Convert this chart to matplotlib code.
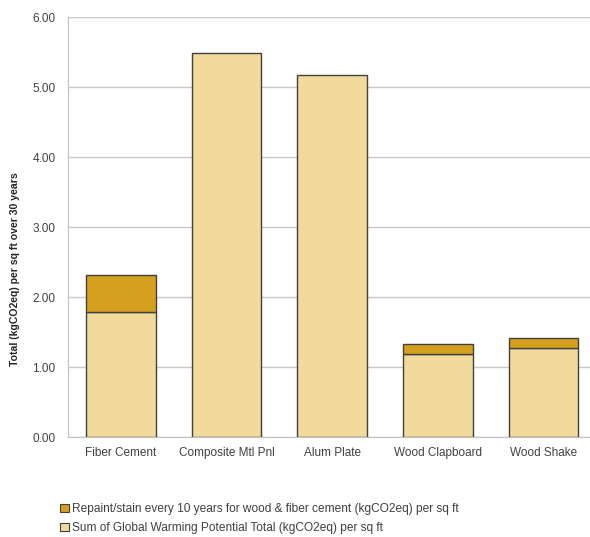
import numpy as np
import matplotlib.pyplot as plt
from matplotlib.patches import Patch

plt.rcParams['font.family'] = ['Liberation Sans', 'DejaVu Sans']

categories = ['Fiber Cement', 'Composite Mtl Pnl', 'Alum Plate', 'Wood Clapboard', 'Wood Shake']
gwp_total = [1.78, 5.48, 5.17, 1.18, 1.27]
repaint = [0.54, 0.0, 0.0, 0.15, 0.15]

base_color = '#f2d99c'
top_color = '#d4a01e'
edge = '#404040'

fig = plt.figure(figsize=(5.9, 5.37), dpi=100)
ax = fig.add_axes([0.1153, 0.1862, 0.8847, 0.7821])

x = np.arange(len(categories))
ax.bar(x, gwp_total, width=0.66, color=base_color, edgecolor=edge, linewidth=1.0, zorder=3)
tops = [r if r > 0 else np.nan for r in repaint]
ax.bar(x, tops, width=0.66, bottom=gwp_total, color=top_color, edgecolor=edge, linewidth=1.0, zorder=3)

ax.set_ylim(0, 6)
ax.set_xlim(-0.5, 4.44)
ax.set_yticks(np.arange(0, 7, 1))
ax.set_yticklabels([f'{v:.2f}' for v in np.arange(0, 7, 1)])
ax.set_xticks(x)
ax.set_xticklabels(categories)
ax.tick_params(axis='both', length=0, labelsize=8.5, labelcolor='#404040')
ax.tick_params(axis='y', pad=9)
ax.tick_params(axis='x', pad=7)

ax.grid(axis='y', color='#c8c8c8', linewidth=1.0, zorder=0)
for s in ['top', 'right']:
    ax.spines[s].set_visible(False)
ax.spines['left'].set_color('#c0c0c0')
ax.spines['bottom'].set_color('#c0c0c0')

fig.text(0.026, 0.499, 'Total (kgCO2eq) per sq ft over 30 years', rotation=90,
         ha='center', va='center', fontsize=7.6, fontweight='bold', color='#262626')

handles = [Patch(facecolor=top_color, edgecolor=edge, linewidth=0.8),
           Patch(facecolor=base_color, edgecolor=edge, linewidth=0.8)]
labels = ['Repaint/stain every 10 years for wood & fiber cement (kgCO2eq) per sq ft',
          'Sum of Global Warming Potential Total (kgCO2eq) per sq ft']
fig.legend(handles, labels, loc='upper left', bbox_to_anchor=(0.102, 0.063),
           frameon=False, fontsize=8.6, handlelength=0.7, handleheight=0.7,
           handletextpad=0.25, labelspacing=0.6, labelcolor='#404040',
           borderaxespad=0, borderpad=0)

fig.savefig('out.png', dpi=100)
